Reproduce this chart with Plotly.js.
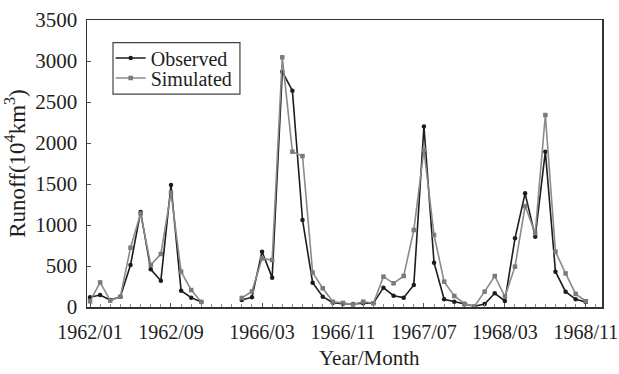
<!DOCTYPE html>
<html>
<head>
<meta charset="utf-8">
<script src="https://cdn.plot.ly/plotly-3.0.1.min.js"></script>
<style>html,body{margin:0;padding:0;background:#fff;}#chart{width:619px;height:374px;}</style>
</head>
<body>
<div id="chart"></div>
<script>
// ---- data ----
const months1962 = ['1962/01','1962/02','1962/03','1962/04','1962/05','1962/06','1962/07','1962/08','1962/09','1962/10','1962/11','1962/12'];
const observed1962 = [118, 146, 85, 126, 512, 1160, 459, 321, 1488, 199, 114, 62];
const simulated1962 = [70, 300, 78, 126, 723, 1140, 512, 646, 1394, 431, 207, 62];

const months1966to1968 = ['1966/01','1966/02','1966/03','1966/04','1966/05','1966/06','1966/07','1966/08','1966/09','1966/10','1966/11','1966/12',
  '1967/01','1967/02','1967/03','1967/04','1967/05','1967/06','1967/07','1967/08','1967/09','1967/10','1967/11','1967/12',
  '1968/01','1968/02','1968/03','1968/04','1968/05','1968/06','1968/07','1968/08','1968/09','1968/10','1968/11'];
const observed1966to1968 = [85, 120, 675, 358, 2870, 2638, 1061, 297, 126, 53, 40, 37, 45, 45, 236, 138, 114, 268, 2200, 540, 94, 65, 30, 10, 37, 167, 73, 837, 1386, 858, 1894, 431, 187, 94, 60];
const simulated1966to1968 = [110, 190, 593, 573, 3045, 1894, 1841, 420, 228, 65, 50, 30, 65, 45, 370, 289, 378, 939, 1915, 878, 309, 134, 40, 10, 187, 378, 126, 492, 1231, 900, 2341, 675, 410, 159, 70];

const tickLabels = ['1962/01','1962/09','1966/03','1966/11','1967/07','1968/03','1968/11'];

// ---- positions on a month axis (empty slots between the two periods) ----
const GAP = 3;
const x1 = months1962.map((m, i) => i);
const x2 = months1966to1968.map((m, i) => months1962.length + GAP + i);
const allMonths = months1962.concat(months1966to1968);
const allX = x1.concat(x2);
const tickvals = tickLabels.map(l => allX[allMonths.indexOf(l)]);

const xs = x1.concat([null], x2);
const obsY = observed1962.concat([null], observed1966to1968);
const simY = simulated1962.concat([null], simulated1966to1968);

const font = 'Liberation Serif, Times New Roman, serif';
const txt = '#1e1e1e';

const traces = [
  {x: xs, y: obsY, name: 'Observed', mode: 'lines+markers', type: 'scatter', legend: 'legend',
   line: {color: '#1c1c1c', width: 1.6}, marker: {color: '#1c1c1c', size: 4.5, symbol: 'circle'}},
  {x: xs, y: simY, name: 'Simulated', mode: 'lines+markers', type: 'scatter', legend: 'legend2',
   line: {color: '#8a8a8a', width: 1.6}, marker: {color: '#7a7a7a', size: 4.5, symbol: 'square'}}
];

const legendCommon = {xanchor: 'left', yanchor: 'middle', bgcolor: 'rgba(0,0,0,0)', borderwidth: 0,
  font: {family: font, size: 20, color: txt}, itemwidth: 30};

const layout = {
  width: 619, height: 374,
  margin: {l: 87, r: 17, t: 20, b: 67},
  paper_bgcolor: '#fff', plot_bgcolor: '#fff',
  font: {family: font, size: 20, color: txt},
  showlegend: true,
  legend: Object.assign({x: 0.046, y: 0.8676}, legendCommon),
  legend2: Object.assign({x: 0.046, y: 0.798}, legendCommon),
  shapes: [
    {type: 'rect', xref: 'paper', yref: 'paper', x0: 0.0505, x1: 0.297, y0: 0.742, y1: 0.921,
     line: {color: '#444', width: 1.2}, fillcolor: '#fff', layer: 'above'}
  ],
  xaxis: {
    range: [-0.3, 50.6], showgrid: false, zeroline: false,
    tickmode: 'array', tickvals: tickvals, ticktext: tickLabels,
    ticks: 'inside', ticklen: 4, tickcolor: '#555', ticklabelstandoff: 6, ticklabeloverflow: 'allow',
    minor: {tickmode: 'linear', tick0: 0, dtick: 1, ticks: 'inside', ticklen: 3, tickcolor: '#888'},
    showline: true, mirror: true, linecolor: '#333', linewidth: 1.5,
    tickfont: {family: font, size: 20, color: txt}
  },
  yaxis: {
    range: [0, 3500], dtick: 500, showgrid: false, zeroline: false,
    ticks: 'inside', ticklen: 4, tickcolor: '#555', ticklabelstandoff: 4,
    showline: true, mirror: true, linecolor: '#333', linewidth: 1.5,
    tickfont: {family: font, size: 21, color: txt},
    title: {text: 'Runoff(10<sup>4</sup>km<sup>3</sup>)', font: {family: font, size: 23, color: txt}, standoff: 3}
  },
  annotations: [
    {text: 'Year/Month', xref: 'paper', yref: 'paper', x: 0.548, y: -0.178, xanchor: 'center', yanchor: 'middle',
     showarrow: false, font: {family: font, size: 21, color: txt}}
  ]
};

Plotly.newPlot('chart', traces, layout, {displayModeBar: false, staticPlot: true});
</script>
</body>
</html>
